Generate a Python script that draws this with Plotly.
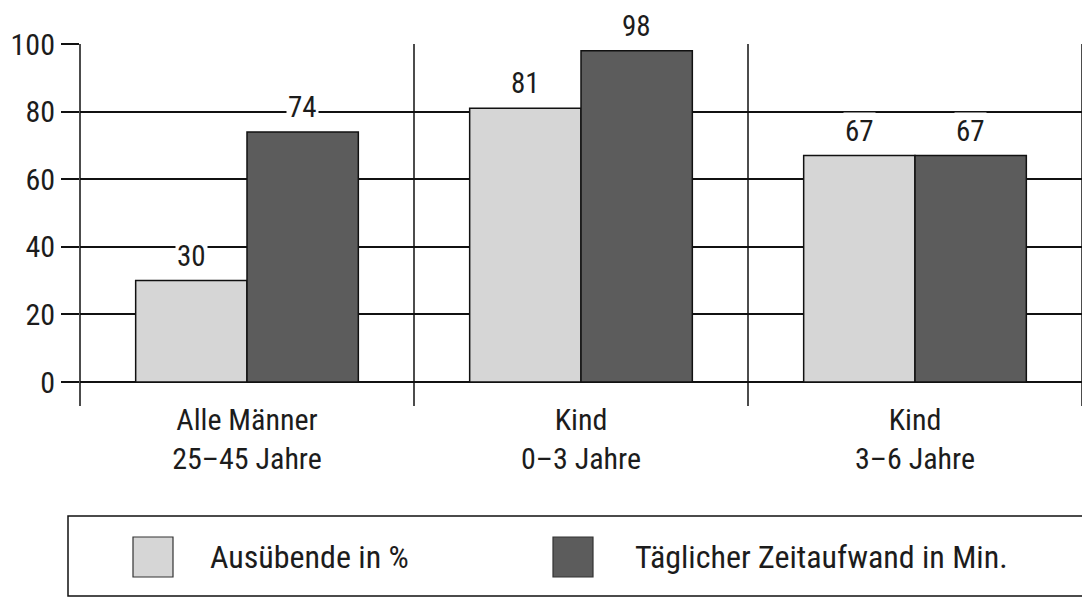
import plotly.graph_objects as go

categories = ["Alle Männer<br>25–45 Jahre", "Kind<br>0–3 Jahre", "Kind<br>3–6 Jahre"]
series_names = ["Ausübende in %", "Täglicher Zeitaufwand in Min."]
ausuebende = [30, 81, 67]
zeitaufwand = [74, 98, 67]
y_ticks = [0, 20, 40, 60, 80, 100]

colors = ["#d6d6d6", "#5c5c5c"]
FONT = "Liberation Sans Narrow, Roboto Condensed, Arial Narrow, sans-serif"
TXT = "#1c1c1c"

W, H = 1090, 600
O = 8  # page offset of the figure inside the browser window
L, R, T, B = 72, 16, 36, 226
pw, ph = W - L - R, H - T - B


def px_x(p):
    return (p - O - L) / pw


def px_y(p):
    return (H - B - (p - O)) / ph


fig = go.Figure()
for name, vals, col in zip(series_names, [ausuebende, zeitaufwand], colors):
    fig.add_trace(go.Bar(
        x=list(range(len(categories))), y=vals, name=name,
        marker=dict(color=col, line=dict(color="#111", width=1.5)),
        showlegend=False,
    ))

n = len(categories)
off = 1 / 6
annotations = []
for s, vals in enumerate([ausuebende, zeitaufwand]):
    for i, v in enumerate(vals):
        annotations.append(dict(
            x=i + (-off if s == 0 else off), y=v, xref="x", yref="y",
            text=str(v), showarrow=False, yanchor="middle", yshift=25,
            bgcolor="white", borderpad=1,
            font=dict(size=29, family=FONT, color=TXT),
        ))

shapes = []
# vertical separators extending below the axis
for k in range(n + 1):
    shapes.append(dict(type="line", xref="paper", yref="paper",
                       x0=k / n, x1=k / n, y0=px_y(406), y1=1,
                       line=dict(color="#111", width=1.5)))

# manual legend
shapes.append(dict(type="rect", xref="paper", yref="paper",
                   x0=px_x(68), x1=px_x(1083), y0=px_y(596), y1=px_y(516),
                   line=dict(color="#111", width=1.5), fillcolor="rgba(0,0,0,0)"))
legend_items = [(133, 208), (553, 633)]
for (sx, tx), name, col in zip(legend_items, series_names, colors):
    shapes.append(dict(type="rect", xref="paper", yref="paper",
                       x0=px_x(sx), x1=px_x(sx + 40), y0=px_y(577), y1=px_y(537),
                       line=dict(color="#333", width=1.2), fillcolor=col))
    annotations.append(dict(x=px_x(tx), y=px_y(557), xref="paper", yref="paper",
                            text=name, showarrow=False, xanchor="left", yanchor="middle",
                            font=dict(size=32, family=FONT, color=TXT)))

fig.update_layout(
    width=W, height=H,
    margin=dict(l=L, r=R, t=T, b=B, pad=0, autoexpand=False),
    paper_bgcolor="white", plot_bgcolor="white",
    barmode="group", bargap=1 / 3, bargroupgap=0,
    annotations=annotations, shapes=shapes,
    font=dict(family=FONT, color=TXT),
)
fig.update_xaxes(
    tickmode="array", tickvals=list(range(n)), ticktext=categories,
    range=[-0.5, n - 0.5], showgrid=False, zeroline=False, showline=False,
    ticks="", tickfont=dict(size=30, family=FONT, color=TXT), ticklabelstandoff=17,
    automargin=False,
)
fig.update_yaxes(
    range=[0, 100], tickmode="array", tickvals=y_ticks,
    showgrid=True, gridcolor="#111", gridwidth=1.5,
    zeroline=True, zerolinecolor="#111", zerolinewidth=1.5,
    ticks="outside", ticklen=18, tickwidth=1.5, tickcolor="#111",
    showline=False, tickfont=dict(size=30, family=FONT, color=TXT),
    automargin=False,
)

fig.write_html("out.html")
